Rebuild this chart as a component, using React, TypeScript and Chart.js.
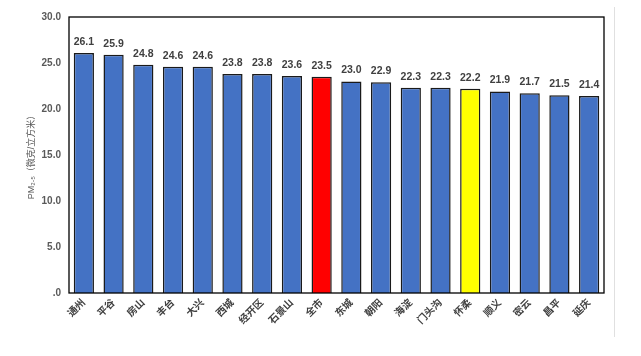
import React, { useEffect, useRef } from "react";
import { Chart, registerables } from "chart.js";

Chart.register(...registerables);

const categories = ["通州", "平谷", "房山", "丰台", "大兴", "西城", "经开区", "石景山", "全市", "东城", "朝阳", "海淀", "门头沟", "怀柔", "顺义", "密云", "昌平", "延庆"];
const values = [26.1, 25.9, 24.8, 24.6, 24.6, 23.8, 23.8, 23.6, 23.5, 23.0, 22.9, 22.3, 22.3, 22.2, 21.9, 21.7, 21.5, 21.4];
const highlightRed = "全市";
const highlightYellow = "怀柔";
const yTitle = "PM₂.₅（微克/立方米）";

const FONT = "'Liberation Sans', 'Noto Sans CJK SC', sans-serif";

const colors = categories.map((c) =>
  c === highlightRed ? "#FF0000" : c === highlightYellow ? "#FFFF00" : "#4472C4"
);

const decor = {
  id: "decor",
  afterDatasetsDraw(chart: any) {
    const { ctx, chartArea } = chart;
    ctx.save();
    // frame
    ctx.strokeStyle = "#000";
    ctx.lineWidth = 1.3;
    ctx.strokeRect(chartArea.left, chartArea.top, chartArea.right - chartArea.left, chartArea.bottom - chartArea.top);
    // value labels
    const meta = chart.getDatasetMeta(0);
    ctx.fillStyle = "#404040";
    ctx.font = `bold 10.5px ${FONT}`;
    ctx.textAlign = "center";
    ctx.textBaseline = "middle";
    meta.data.forEach((bar: any, i: number) => {
      ctx.fillText(values[i].toFixed(1), bar.x, bar.y - 11);
    });
    // y title
    ctx.translate(32, (chartArea.top + chartArea.bottom) / 2);
    ctx.rotate(-Math.PI / 2);
    ctx.fillStyle = "#595959";
    ctx.font = `9px ${FONT}`;
    ctx.fillText(yTitle, 0, 0);
    ctx.restore();
    // faint right line
    ctx.save();
    ctx.strokeStyle = "#e0e0e0";
    ctx.lineWidth = 1;
    ctx.beginPath();
    ctx.moveTo(614.5, 7);
    ctx.lineTo(614.5, 337);
    ctx.stroke();
    ctx.restore();
  },
};

export default function App() {
  const ref = useRef<HTMLCanvasElement>(null);
  useEffect(() => {
    if (!ref.current) return;
    const chart = new Chart(ref.current, {
      type: "bar",
      data: {
        labels: categories,
        datasets: [
          {
            data: values,
            backgroundColor: colors,
            borderColor: "#1a1a1a",
            borderWidth: 1.5,
            barPercentage: 0.68,
            categoryPercentage: 1.0,
          },
        ],
      },
      options: {
        responsive: false,
        animation: false,
        layout: { padding: { left: 0, right: 37, top: 17, bottom: 0 } },
        plugins: { legend: { display: false }, tooltip: { enabled: false } },
        scales: {
          x: {
            grid: { display: false, drawTicks: false },
            border: { display: false },
            ticks: {
              minRotation: 45,
              maxRotation: 45,
              color: "#404040",
              font: { family: FONT, size: 10, weight: "bold" },
              padding: 4,
            },
            afterFit(scale: any) {
              scale.height = 63;
            },
          },
          y: {
            min: 0,
            max: 30,
            grid: { display: false, drawTicks: false },
            border: { display: false },
            ticks: {
              stepSize: 5,
              color: "#595959",
              padding: 8,
              font: { family: FONT, size: 10, weight: "bold" },
              callback: (v: any) => (Number(v) === 0 ? ".0" : Number(v).toFixed(1)),
            },
            afterFit(scale: any) {
              scale.width = 69;
            },
          },
        },
      },
      plugins: [decor],
    });
    return () => chart.destroy();
  }, []);
  return (
    <div style={{ position: "fixed", left: 0, top: 0, width: 641, height: 356, background: "#fff" }}>
      <canvas ref={ref} width={641} height={356} style={{ width: 641, height: 356 }} />
    </div>
  );
}
